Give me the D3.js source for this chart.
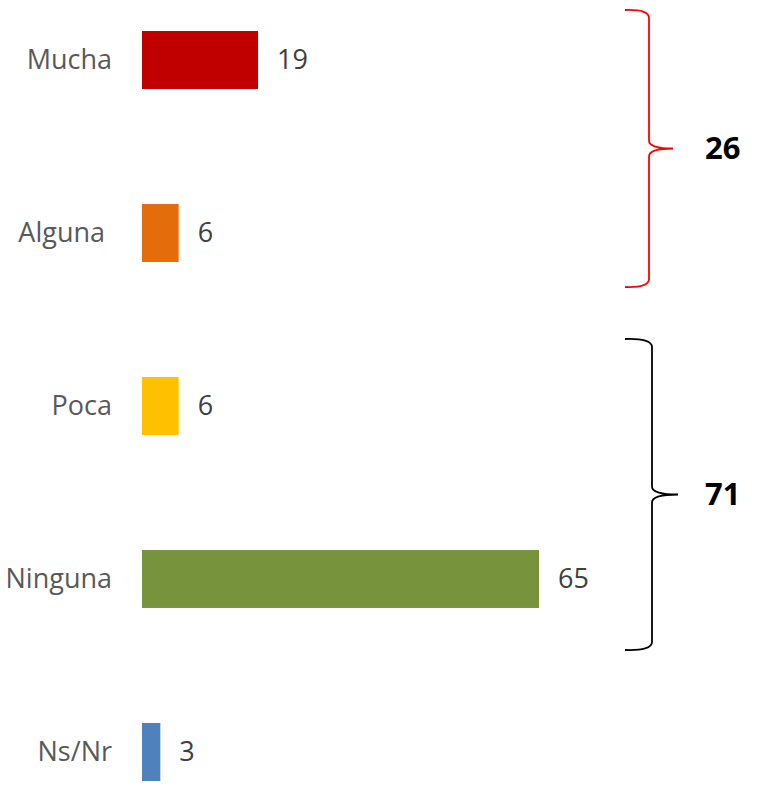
<!DOCTYPE html>
<html>
<head>
<meta charset="utf-8">
<script src="https://cdn.jsdelivr.net/npm/d3@7"></script>
<style>
  html, body { margin: 0; padding: 0; background: #fff; }
  svg { display: block; }
</style>
</head>
<body>
<div id="chart"></div>
<script>
(function () {
  'use strict';

  // Data
  const CATEGORIES = ['Mucha', 'Alguna', 'Poca', 'Ninguna', 'Ns/Nr'];
  const VALUES = [19, 6, 6, 65, 3];
  const COLORS = ['#C00000', '#E46C0A', '#FFC000', '#77933C', '#4F81BD'];

  // Grouped totals shown with braces
  const GROUP_LABELS = ['26', '71'];
  const GROUP_FIRST = ['Mucha', 'Poca'];
  const GROUP_LAST = ['Alguna', 'Ninguna'];
  const GROUP_COLORS = ['#FF0000', '#000000'];

  const W = 760, H = 785;
  const FONT = '"Open Sans", "Noto Sans", sans-serif';

  const svg = d3.select('#chart').append('svg')
    .attr('width', W).attr('height', H)
    .attr('viewBox', `0 0 ${W} ${H}`);

  const x = d3.scaleLinear().domain([0, 65]).range([142, 539]);
  const y = d3.scaleBand().domain(CATEGORIES)
    .range([-26.5, 838.5]).paddingInner(0.665).paddingOuter(0.3325);
  const bw = y.bandwidth();

  // Bars
  svg.selectAll('rect.bar').data(CATEGORIES).enter().append('rect')
    .attr('class', 'bar')
    .attr('x', x(0))
    .attr('y', d => y(d))
    .attr('width', (d, i) => x(VALUES[i]) - x(0))
    .attr('height', bw)
    .attr('fill', (d, i) => COLORS[i]);

  // Category labels (Alguna sits a little left in the original)
  svg.selectAll('text.cat').data(CATEGORIES).enter().append('text')
    .attr('class', 'cat')
    .attr('x', d => d === 'Alguna' ? 105 : 112)
    .attr('y', d => y(d) + bw / 2)
    .attr('dy', '0.35em')
    .attr('text-anchor', 'end')
    .attr('font-family', FONT).attr('font-size', 27)
    .attr('fill', '#595959')
    .text(d => d);

  // Value labels
  svg.selectAll('text.val').data(CATEGORIES).enter().append('text')
    .attr('class', 'val')
    .attr('x', (d, i) => x(VALUES[i]) + 19)
    .attr('y', d => y(d) + bw / 2)
    .attr('dy', '0.35em')
    .attr('font-family', FONT).attr('font-size', 27)
    .attr('fill', '#404040')
    .text((d, i) => VALUES[i]);

  // Braces
  const padTop = [21, 38], padBot = [25, 42];
  const xLeft = 625, xVert = [649, 652], xTip = [673, 678];

  GROUP_LABELS.forEach((label, i) => {
    const top = y(GROUP_FIRST[i]) - padTop[i];
    const bot = y(GROUP_LAST[i]) + bw + padBot[i];
    const mid = (top + bot) / 2;
    const xv = xVert[i], r = 8;

    const p = d3.path();
    p.moveTo(xLeft, top);
    p.quadraticCurveTo(xv, top - 1, xv, top + r);
    p.lineTo(xv, mid - r);
    p.quadraticCurveTo(xv, mid, xTip[i], mid);
    p.quadraticCurveTo(xv, mid, xv, mid + r);
    p.lineTo(xv, bot - r);
    p.quadraticCurveTo(xv, bot + 1, xLeft, bot);

    svg.append('path')
      .attr('d', p.toString())
      .attr('fill', 'none')
      .attr('stroke', GROUP_COLORS[i])
      .attr('stroke-width', 1.8);

    svg.append('text')
      .attr('x', 705)
      .attr('y', mid)
      .attr('dy', '0.35em')
      .attr('font-family', FONT).attr('font-size', 31)
      .attr('font-weight', 700)
      .attr('fill', '#000')
      .text(label);
  });
})();
</script>
</body>
</html>
